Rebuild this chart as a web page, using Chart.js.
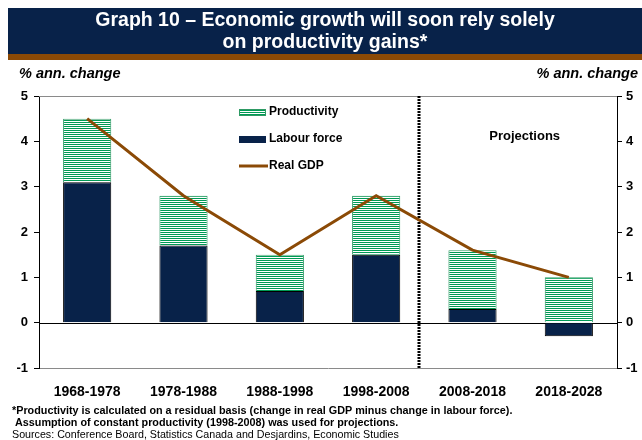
<!DOCTYPE html>
<html>
<head>
<meta charset="utf-8">
<script src="https://cdn.jsdelivr.net/npm/chart.js@4.4.0/dist/chart.umd.min.js"></script>
<style>
  html, body { margin: 0; padding: 0; background: #ffffff; }
  #wrap { position: relative; width: 642px; height: 440px; }
</style>
</head>
<body>
<div id="wrap"><canvas id="c" width="642" height="440"></canvas></div>
<script>
// ---- data ----
const categories = ['1968-1978', '1978-1988', '1988-1998', '1998-2008', '2008-2018', '2018-2028'];
const labourForce = [3.1, 1.7, 0.7, 1.5, 0.3, -0.3];
const productivity = [1.4, 1.1, 0.8, 1.3, 1.3, 1.0];
const realGDP = [4.5, 2.8, 1.5, 2.8, 1.6, 1.0];
const yTicks = [-1, 0, 1, 2, 3, 4, 5];
const projectionStart = 3.44; // position (in category units) of the projections divider
const titleLines = ['Graph 10 \u2013 Economic growth will soon rely solely', 'on productivity gains*'];
const axisTitle = '% ann. change';
const projectionsLabel = 'Projections';
const footnotes = [
  '*Productivity is calculated on a residual basis (change in real GDP minus change in labour force).',
  ' Assumption of constant productivity (1998-2008) was used for projections.'
];
const sourcesText = 'Sources: Conference Board, Statistics Canada and Desjardins, Economic Studies';

// ---- styles ----
const FONT = '"Liberation Sans", Arial, sans-serif';
const NAVY = '#082249';
const BROWN = '#8b4a06';
const GREEN = '#009a55';

function stripePattern() {
  const p = document.createElement('canvas');
  p.width = 4; p.height = 2;
  const g = p.getContext('2d');
  g.fillStyle = '#ffffff'; g.fillRect(0, 0, 4, 2);
  g.fillStyle = GREEN;
  g.fillRect(0, 0, 4, 1);
  return g.createPattern(p, 'repeat');
}
const pattern = stripePattern();

const decor = {
  id: 'decor',
  beforeDraw(chart) {
    const ctx = chart.ctx;
    ctx.save();
    ctx.fillStyle = '#ffffff';
    ctx.fillRect(0, 0, chart.width, chart.height);
    // banner
    ctx.fillStyle = NAVY;
    ctx.fillRect(8, 8, chart.width - 8, 46);
    ctx.fillStyle = BROWN;
    ctx.fillRect(8, 54, chart.width - 8, 6);
    ctx.fillStyle = '#ffffff';
    ctx.font = 'bold 19.5px ' + FONT;
    ctx.textAlign = 'center';
    ctx.textBaseline = 'middle';
    const cx = (8 + chart.width) / 2;
    ctx.fillText(titleLines[0], cx, 21);
    ctx.fillText(titleLines[1], cx, 43);
    // axis titles
    ctx.fillStyle = '#000000';
    ctx.font = 'italic bold 14.5px ' + FONT;
    ctx.textAlign = 'left';
    ctx.fillText(axisTitle, 19, 74);
    ctx.textAlign = 'right';
    ctx.fillText(axisTitle, 638, 74);
    // footnotes
    ctx.textAlign = 'left';
    ctx.font = 'bold 10.8px ' + FONT;
    ctx.fillText(footnotes[0], 12, 411);
    ctx.fillText(footnotes[1], 12, 423);
    ctx.font = '10.7px ' + FONT;
    ctx.fillText(sourcesText, 12, 435);
    ctx.restore();
  },
  beforeDatasetsDraw(chart) {
    const ctx = chart.ctx;
    const a = chart.chartArea;
    const y = chart.scales.y;
    ctx.save();
    // top border
    ctx.strokeStyle = '#8a8a8a';
    ctx.lineWidth = 1;
    ctx.beginPath();
    ctx.moveTo(a.left, a.top + 0.5);
    ctx.lineTo(a.right, a.top + 0.5);
    ctx.stroke();
    // zero line
    const y0 = Math.round(y.getPixelForValue(0)) + 0.5;
    ctx.strokeStyle = '#000000';
    ctx.beginPath();
    ctx.moveTo(a.left, y0);
    ctx.lineTo(a.right, y0);
    ctx.stroke();
    // projections divider
    const xd = Math.round(chart.scales.x.getPixelForValue(projectionStart));
    ctx.lineWidth = 3;
    ctx.setLineDash([2, 1]);
    ctx.beginPath();
    ctx.moveTo(xd, a.top);
    ctx.lineTo(xd, a.bottom);
    ctx.stroke();
    ctx.setLineDash([]);
    // projections label
    ctx.fillStyle = '#000000';
    ctx.font = 'bold 13px ' + FONT;
    ctx.textAlign = 'center';
    ctx.textBaseline = 'middle';
    ctx.fillText(projectionsLabel, (chart.scales.x.getPixelForValue(4) + chart.scales.x.getPixelForValue(5)) / 2 + 4, 136);
    ctx.restore();
  },
  afterDraw(chart) {
    const ctx = chart.ctx;
    const ds = chart.data.datasets;
    ctx.save();
    ctx.font = 'bold 12px ' + FONT;
    ctx.textAlign = 'left';
    ctx.textBaseline = 'middle';
    const lx = 239, lw = 27, rows = [112, 139, 166];
    // Productivity
    ctx.fillStyle = pattern;
    ctx.fillRect(lx, rows[0] - 3, lw, 7);
    ctx.strokeStyle = ds[1].borderColor;
    ctx.lineWidth = 1;
    ctx.strokeRect(lx + 0.5, rows[0] - 3 + 0.5, lw - 1, 6);
    ctx.fillStyle = '#000000';
    ctx.fillText(ds[1].label, lx + lw + 3, rows[0]);
    // Labour force
    ctx.fillStyle = ds[0].backgroundColor;
    ctx.fillRect(lx, rows[1] - 3, lw, 7);
    ctx.fillStyle = '#000000';
    ctx.fillText(ds[0].label, lx + lw + 3, rows[1]);
    // Real GDP
    ctx.strokeStyle = ds[2].borderColor;
    ctx.lineWidth = 3;
    ctx.beginPath();
    ctx.moveTo(lx, rows[2]);
    ctx.lineTo(lx + lw + 2, rows[2]);
    ctx.stroke();
    ctx.fillStyle = '#000000';
    ctx.fillText(ds[2].label, lx + lw + 3, rows[2]);
    ctx.restore();
  }
};

new Chart(document.getElementById('c'), {
  type: 'bar',
  data: {
    labels: categories,
    datasets: [
      {
        label: 'Labour force',
        data: labourForce,
        backgroundColor: NAVY,
        borderColor: '#000000',
        borderWidth: 1,
        stack: 'growth',
        order: 2
      },
      {
        label: 'Productivity',
        data: productivity,
        backgroundColor: pattern,
        borderColor: '#2e9a64',
        borderWidth: 1,
        stack: 'growth',
        order: 2
      },
      {
        type: 'line',
        label: 'Real GDP',
        data: realGDP,
        borderColor: BROWN,
        borderWidth: 3,
        pointRadius: 0,
        tension: 0,
        fill: false,
        stack: 'gdp',
        order: 1
      }
    ]
  },
  options: {
    responsive: false,
    animation: false,
    events: [],
    layout: { padding: { top: 96, left: 0, right: 0, bottom: 0 } },
    datasets: { bar: { categoryPercentage: 1, barPercentage: 0.5 } },
    plugins: { legend: { display: false }, tooltip: { enabled: false }, title: { display: false } },
    scales: {
      x: {
        stacked: true,
        offset: true,
        grid: { display: false },
        border: { display: true, color: '#8a8a8a', width: 1 },
        ticks: { color: '#000000', font: { family: FONT, size: 14, weight: 'bold' }, padding: 8, maxRotation: 0 },
        afterFit(s) { s.height = 72; }
      },
      y: {
        stacked: true,
        position: 'left',
        min: -1, max: 5,
        afterBuildTicks(s) { s.ticks = yTicks.map(v => ({ value: v })); },
        grid: { drawOnChartArea: false, tickLength: 5, tickColor: '#000000', tickWidth: 1 },
        border: { display: true, color: '#000000', width: 1 },
        ticks: { color: '#000000', font: { family: FONT, size: 13, weight: 'bold' }, padding: 6 },
        afterFit(s) { s.width = 39; }
      },
      y2: {
        position: 'right',
        min: -1, max: 5,
        afterBuildTicks(s) { s.ticks = yTicks.map(v => ({ value: v })); },
        grid: { drawOnChartArea: false, tickLength: 5, tickColor: '#000000', tickWidth: 1 },
        border: { display: true, color: '#000000', width: 1 },
        ticks: { color: '#000000', font: { family: FONT, size: 13, weight: 'bold' }, padding: 4 },
        afterFit(s) { s.width = 25; }
      }
    }
  },
  plugins: [decor]
});
</script>
</body>
</html>
